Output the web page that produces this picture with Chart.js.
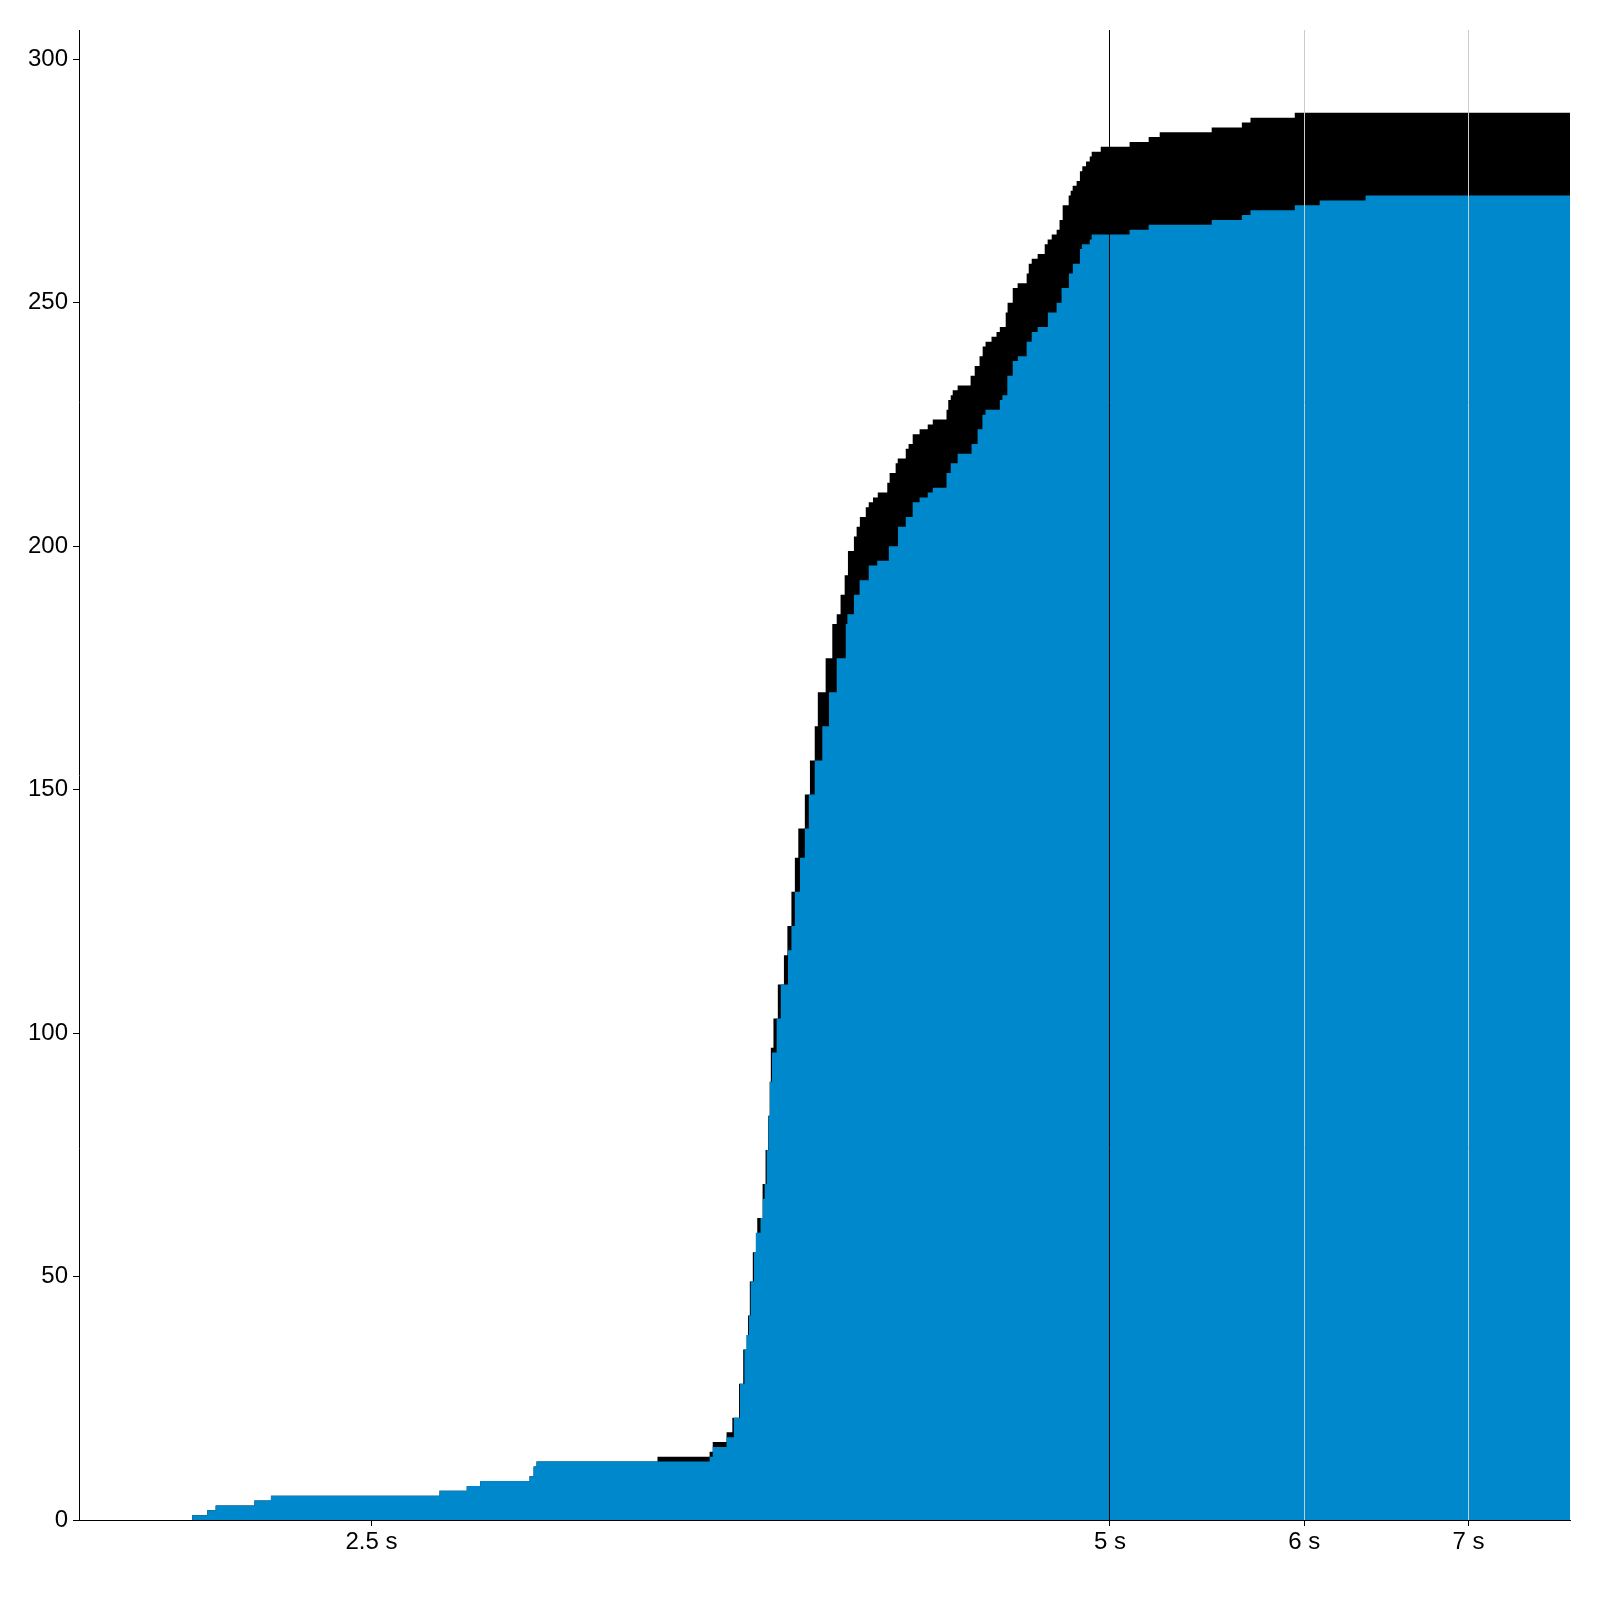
<!DOCTYPE html>
<html>
<head>
<meta charset="utf-8">
<script src="https://cdn.jsdelivr.net/npm/chart.js@4.4.0/dist/chart.umd.min.js"></script>
<style>
  html, body { margin: 0; padding: 0; background: #ffffff; }
  #wrap { width: 1600px; height: 1600px; }
</style>
</head>
<body>
<div id="wrap"><canvas id="c" width="1600" height="1600"></canvas></div>
<script>
// ---- data (time in seconds, cumulative counts) ----
const blueTime = [1.9, 2.113, 2.143, 2.160, 2.240, 2.275, 2.665, 2.734, 2.769, 2.900, 2.911, 2.919,
  3.434, 3.444, 3.489, 3.513, 3.533, 3.548, 3.554, 3.563, 3.569, 3.580, 3.586, 3.602, 3.610, 3.616,
  3.623, 3.629, 3.634, 3.641, 3.657, 3.671, 3.696, 3.708, 3.720, 3.738, 3.755, 3.769, 3.790, 3.817,
  3.841, 3.869, 3.902, 3.908, 3.932, 3.953, 3.987, 4.019, 4.063, 4.098, 4.128, 4.155, 4.182, 4.214,
  4.234, 4.289, 4.306, 4.334, 4.391, 4.416, 4.436, 4.449, 4.509, 4.520, 4.541, 4.564, 4.586, 4.624,
  4.646, 4.672, 4.717, 4.756, 4.778, 4.811, 4.829, 4.861, 4.870, 4.906, 4.915, 5.093, 5.185, 5.501,
  5.659, 5.705, 5.947, 6.088, 6.356, 7.7];
const blueCount = [0, 1, 2, 3, 4, 5, 6, 7, 8, 9, 11, 12,
  13, 15, 17, 21, 28, 35, 38, 42, 49, 55, 59, 62, 66, 69,
  76, 83, 90, 96, 103, 110, 117, 122, 129, 136, 142, 149, 156, 163,
  170, 177, 184, 186, 190, 193, 196, 197, 200, 204, 206, 209, 210, 211,
  212, 215, 217, 219, 221, 224, 227, 228, 230, 231, 235, 238, 239, 242,
  244, 245, 248, 250, 253, 256, 258, 261, 262, 263, 264, 265, 266, 267,
  268, 269, 270, 271, 272, 272];

const totalTime = [1.9, 2.113, 2.143, 2.160, 2.240, 2.275, 2.665, 2.734, 2.769, 2.900, 2.911, 2.919,
  3.270, 3.434, 3.444, 3.489, 3.508, 3.530, 3.544, 3.560, 3.566, 3.576, 3.591, 3.609, 3.619, 3.628,
  3.633, 3.637, 3.646, 3.661, 3.682, 3.694, 3.708, 3.720, 3.732, 3.755, 3.773, 3.790, 3.801, 3.829,
  3.853, 3.869, 3.883, 3.898, 3.910, 3.932, 3.942, 3.954, 3.976, 3.987, 4.003, 4.021, 4.057, 4.066,
  4.089, 4.097, 4.128, 4.139, 4.155, 4.182, 4.214, 4.234, 4.289, 4.296, 4.306, 4.314, 4.334, 4.387,
  4.404, 4.424, 4.437, 4.449, 4.474, 4.495, 4.509, 4.534, 4.542, 4.564, 4.585, 4.624, 4.633, 4.646,
  4.672, 4.703, 4.716, 4.734, 4.756, 4.769, 4.783, 4.810, 4.819, 4.828, 4.846, 4.861, 4.872, 4.889,
  4.906, 4.915, 4.957, 5.093, 5.185, 5.239, 5.501, 5.659, 5.705, 5.947, 7.7];
const totalCount = [0, 1, 2, 3, 4, 5, 6, 7, 8, 9, 11, 12,
  13, 14, 16, 18, 21, 28, 35, 42, 49, 55, 62, 69, 76, 83,
  90, 97, 103, 110, 116, 122, 129, 136, 142, 149, 156, 163, 170, 177,
  184, 186, 190, 194, 199, 202, 204, 206, 208, 209, 210, 211, 213, 215,
  217, 218, 220, 221, 223, 224, 225, 226, 228, 230, 231, 232, 233, 235,
  237, 239, 241, 242, 243, 244, 245, 248, 250, 253, 254, 256, 258, 259,
  260, 262, 263, 264, 265, 267, 270, 272, 273, 274, 275, 277, 278, 279,
  280, 281, 282, 283, 284, 285, 286, 287, 288, 289, 289];

const xTicks = [2.5, 5, 6, 7];
const yTicks = [0, 50, 100, 150, 200, 250, 300];
const xRange = [1.9, 7.7];
const yRange = [0, 306];

// ---- build chart ----
const toPoints = (ts, vs) => ts.map((t, i) => ({ x: t, y: vs[i] }));

Chart.defaults.font.family = '"Liberation Sans", Arial, Helvetica, sans-serif';
Chart.defaults.font.size = 24;
Chart.defaults.color = '#000000';

new Chart(document.getElementById('c'), {
  type: 'line',
  data: {
    datasets: [
      {
        label: 'blue',
        data: toPoints(blueTime, blueCount),
        stepped: 'before',
        fill: 'origin',
        backgroundColor: '#0088cc',
        borderColor: 'rgba(0,0,0,0)',
        borderWidth: 0,
        pointRadius: 0
      },
      {
        label: 'total',
        data: toPoints(totalTime, totalCount),
        stepped: 'before',
        fill: 'origin',
        backgroundColor: '#000000',
        borderColor: 'rgba(0,0,0,0)',
        borderWidth: 0,
        pointRadius: 0
      }
    ]
  },
  options: {
    responsive: false,
    animation: false,
    devicePixelRatio: 1,
    layout: { padding: { left: 0, top: 30, right: 30, bottom: 0 } },
    plugins: { legend: { display: false }, tooltip: { enabled: false } },
    scales: {
      x: {
        type: 'logarithmic',
        min: xRange[0],
        max: xRange[1],
        afterBuildTicks: (s) => { s.ticks = xTicks.map(v => ({ value: v })); },
        afterFit: (s) => { s.height = 80; },
        ticks: {
          callback: (v) => v + ' s',
          maxRotation: 0,
          autoSkip: false,
          padding: 2,
          color: '#000000'
        },
        grid: {
          z: 1,
          drawOnChartArea: true,
          drawTicks: true,
          tickLength: 6,
          lineWidth: 1,
          tickColor: '#000000',
          color: (ctx) => {
            const v = ctx.tick ? ctx.tick.value : null;
            if (v === 5) return '#000000';
            if (v === 6 || v === 7) return '#cccccc';
            return 'rgba(0,0,0,0)';
          }
        },
        border: { display: true, color: '#000000', width: 1, z: 1 }
      },
      y: {
        type: 'linear',
        min: yRange[0],
        max: yRange[1],
        afterBuildTicks: (s) => { s.ticks = yTicks.map(v => ({ value: v })); },
        afterFit: (s) => { s.width = 79; },
        ticks: { padding: 5, color: '#000000' },
        grid: {
          drawOnChartArea: false,
          drawTicks: true,
          tickLength: 6,
          tickColor: '#000000',
          color: '#000000'
        },
        border: { display: true, color: '#000000', width: 1, z: 1 }
      }
    }
  }
});
</script>
</body>
</html>
